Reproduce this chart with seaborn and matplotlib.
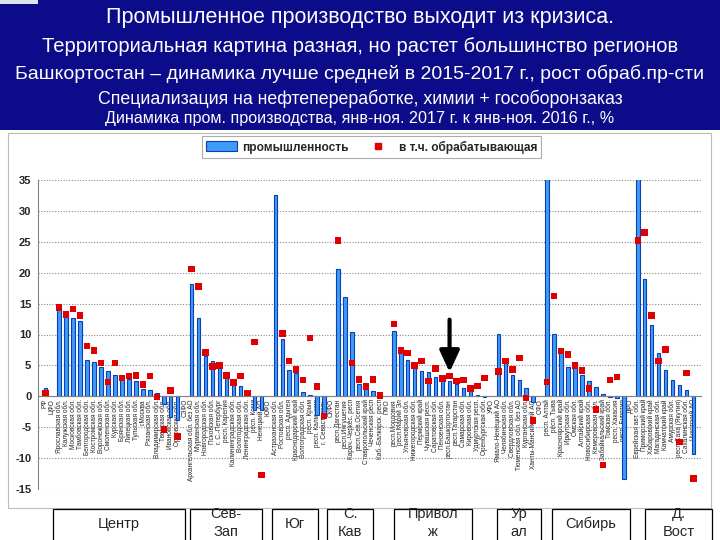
import numpy as np
import pandas as pd
import matplotlib
matplotlib.use("Agg")
import matplotlib.pyplot as plt
import seaborn as sns
from matplotlib import font_manager as fm
from matplotlib.patches import Rectangle, Patch
from matplotlib.lines import Line2D

# ---------------- data ----------------
regions = [
    "РФ", "ЦФО", "Ярославская обл.", "Калужская обл.", "Московская обл.", "Тамбовская обл.",
    "Белгородская обл.", "Костромская обл.", "Воронежская обл.", "Смоленская обл.", "Курская обл.",
    "Брянская обл.", "Липецкая обл.", "Тульская обл.", "г.Москва", "Рязанская обл.",
    "Владимирская обл.", "Тверская обл.", "Ивановская обл.", "Орловская обл.",
    "СЗФО", "Архангельская обл. без АО", "Мурманская обл.", "Новгородская обл.", "Псковская обл.",
    "г. С.-Петербург", "респ. Карелия", "Калининградская обл.", "Вологодская обл.",
    "Ленинградская обл.", "респ. Коми", "Ненецкий АО",
    "ЮФО", "Астраханская обл.", "Ростовская обл.", "респ. Адыгея", "Краснодарский край",
    "Волгоградская обл.", "респ. Крым", "респ. Калмыкия", "г. Севастополь",
    "СКФО", "респ.Дагестан", "респ.Ингушетия", "Карач.-Черкес. респ", "респ.Сев.Осетия",
    "Ставропольский край", "Чеченская респ", "Каб.-Балкарск. респ",
    "ПФО", "респ.Мордовия", "респ.Марий Эл", "Ульяновская обл.", "Нижегородская обл.",
    "Пермский край", "Чувашская респ.", "Саратовская обл.", "Пензенская обл.",
    "респ.Башкортостан", "респ.Татарстан", "Самарская обл.", "Кировская обл.",
    "Удмуртская респ.", "Оренбургская обл.",
    "УФО", "Ямало-Ненецкий АО", "Челябинская обл.", "Свердловская обл.",
    "Тюменская обл. без АО", "Курганская обл.", "Ханты-Мансийский АО",
    "СФО", "респ. Алтай", "респ. Тыва", "Красноярский край", "Иркутская обл.", "Омская обл.",
    "Алтайский край", "Новосибирская обл.", "Кемеровская обл.", "Забайкальский край",
    "Томская обл.", "респ. Хакасия", "респ. Бурятия",
    "ДФО", "Еврейская авт. обл.", "Приморский край", "Хабаровский край", "Магаданская обл.",
    "Камчатский край", "Амурская обл.", "респ.Саха (Якутия)", "Сахалинская обл.", "Чукотский АО",
]

nan = np.nan
industry = [
    1.3, nan, 14.8, 13.0, 12.7, 12.2, 5.9, 5.6, 4.8, 4.1, 3.4, 3.2, 2.8, 2.5, 1.2, 1.1, 0.5, -1.2, -3.3, -3.8,
    nan, 18.2, 12.7, 6.5, 5.75, 5.0, 3.5, 2.7, 1.7, 0.5, -2.2, -2.2,
    nan, 32.6, 9.2, 4.2, 3.8, 0.65, 0.2, -3.0, -3.4,
    nan, 20.6, 16.1, 10.4, 2.0, 1.2, 0.86, 0.05,
    nan, 10.6, 7.0, 5.9, 4.9, 4.1, 4.0, 3.2, 3.1, 2.4, 2.0, 1.3, 0.8, 0.16, -0.1,
    nan, 10.1, 5.4, 3.5, 2.6, 1.3, -1.0,
    nan, 35.5, 10.1, 7.2, 4.8, 4.7, 3.4, 2.4, 1.5, 0.3, -0.1, -0.2, -13.4,
    nan, 35.5, 19.0, 11.6, 7.0, 4.2, 2.6, 1.9, 1.1, -9.4,
]

manufacturing = [
    0.5, nan, 14.4, 13.2, 14.1, 13.1, 8.1, 7.4, 5.4, 2.3, 5.4, 3.0, 3.3, 3.4, 1.9, 3.3, -0.1, -5.4, 0.9, -6.5,
    nan, 20.6, 17.8, 7.1, 4.8, 5.0, 3.4, 2.2, 3.3, 0.5, 8.8, -12.7,
    nan, nan, 10.2, 5.7, 4.35, 2.6, 9.4, 1.6, -3.2,
    nan, 25.2, nan, 5.4, 2.7, 1.6, 2.7, 0.1,
    nan, 11.7, 7.4, 7.0, 5.0, 5.75, 2.5, 4.5, 2.9, 3.3, 2.5, 2.6, 1.3, 1.7, 3.0,
    nan, 4.0, 5.75, 4.3, 6.2, -0.3, -3.9,
    nan, 2.3, 16.2, 7.3, 6.8, 5.0, 4.2, 1.3, -2.1, -11.1, 2.6, 3.1, nan,
    nan, 25.2, 26.5, 13.1, 5.75, 7.6, nan, -7.4, 3.8, -13.3,
]

series_names = ["промышленность", "в т.ч. обрабатывающая"]
y_ticks = [-15, -10, -5, 0, 5, 10, 15, 20, 25, 30, 35]

title_lines = [
    "Промышленное производство выходит из кризиса.",
    "Территориальная картина разная, но растет большинство регионов",
    "Башкортостан – динамика лучше средней в 2015-2017 г., рост обраб.пр-сти",
    "Специализация на нефтепереработке, химии + гособоронзаказ",
    "Динамика пром. производства, янв-ноя. 2017 г. к янв-ноя. 2016 г., %",
]

districts = ["Центр", "Сев-\nЗап", "Юг", "С.\nКав", "Привол\nж", "Ур\nал", "Сибирь", "Д.\nВост"]
highlight = "респ.Башкортостан"

# ---------------- style ----------------
sns.set_style("white")
plt.rcParams["font.family"] = ["Liberation Sans", "DejaVu Sans"]


def font_available(name):
    try:
        fm.findfont(fm.FontProperties(family=name), fallback_to_default=False)
        return True
    except Exception:
        return False


narrow = None
for cand in ["Liberation Sans Narrow", "Arial Narrow"]:
    if font_available(cand):
        narrow = cand
        break

W, H = 720, 540
fig = plt.figure(figsize=(7.2, 5.4), dpi=100)
fig.patch.set_facecolor("white")


def fx(x):
    return x / W


def fy(y):
    return 1 - y / H


# banner
fig.add_artist(Rectangle((0, fy(130)), 1, 130 / H, transform=fig.transFigure,
                         facecolor="#0C0C8A", edgecolor="none", zorder=0))
fig.add_artist(Rectangle((0, fy(4)), fx(38), 4 / H, transform=fig.transFigure,
                         facecolor="#DCE4F2", edgecolor="none", zorder=1))

# chart frame
fig.add_artist(Rectangle((fx(8), fy(508)), fx(703), (508 - 133) / H, transform=fig.transFigure,
                         facecolor="none", edgecolor="#BBBBBB", lw=0.8, zorder=1))

renderer = fig.canvas.get_renderer()
# (center y, target width, max font size)
banner_spec = [(18, 555, 15.5), (47, 708, 14.5), (74, 708, 14.0), (99, 590, 12.8), (118, 565, 11.6)]
if narrow:
    banner_spec = [(18, 555, 16.5), (47, 708, 16.0), (74, 708, 15.0), (99, 590, 14.0), (118, 565, 12.5)]
for s, (cy, tw, fmax) in zip(title_lines, banner_spec):
    kw = {"family": [narrow, "Liberation Sans", "DejaVu Sans"]} if narrow else {}
    t = fig.text(0.5, fy(cy), s, ha="center", va="center", color="white",
                 fontsize=14, zorder=2, **kw)
    w = t.get_window_extent(renderer).width
    t.set_fontsize(min(14 * tw / w, fmax))

# axes
x_left, x_right = 38.3, 700.5
y_top, y_bot = 180, 489
ax = fig.add_axes([fx(x_left), fy(y_bot), (x_right - x_left) / W, (y_bot - y_top) / H])
ax.set_facecolor("none")

pos = np.arange(len(regions))
df = pd.DataFrame({"pos": pos, "ind": industry, "man": manufacturing})

bar_face = "#3D9CF5"
bar_edge = "#0B3FB8"
sns.barplot(data=df, x="pos", y="ind", native_scale=True, width=0.5, color=bar_face,
            saturation=1, edgecolor=bar_edge, linewidth=0.8, ax=ax, zorder=2)
sns.scatterplot(data=df, x="pos", y="man", marker="s", s=22, color="#E00000",
                edgecolor="none", linewidth=0, ax=ax, zorder=4)

ax.set_xlim(-1, len(regions))
ax.set_ylim(-15, 35)
ax.set_yticks(y_ticks)
ax.set_yticklabels([str(v) for v in y_ticks])
ax.set_xticks(pos)
ax.set_xticklabels(regions)
ax.set_xticks(np.arange(-0.5, len(regions), 1), minor=True)
xl_size = 5.4 if narrow else 4.7
ax.tick_params(axis="x", which="major", length=0, pad=2, labelrotation=90, labelsize=xl_size)
ax.tick_params(axis="x", which="minor", length=2.5, color="#808080", direction="out")
ax.tick_params(axis="y", length=3, color="#808080", pad=2, direction="out", labelsize=8)
for lab in ax.get_yticklabels():
    lab.set_fontweight("bold")
for lab in ax.get_xticklabels():
    lab.set_rotation(90)
    lab.set_va("top")
    lab.set_ha("center")
    if narrow:
        lab.set_family([narrow, "Liberation Sans", "DejaVu Sans"])
ax.set_xlabel("")
ax.set_ylabel("")
ax.yaxis.grid(True, linestyle=(0, (1, 1.5)), color="#888888", lw=0.8)
ax.xaxis.grid(False)
ax.set_axisbelow(True)
for sp in ["top", "right"]:
    ax.spines[sp].set_visible(False)
ax.spines["bottom"].set_position(("data", 0))
ax.spines["bottom"].set_color("#808080")
ax.spines["left"].set_color("#808080")
ax.spines["bottom"].set_zorder(3)

# arrow to Bashkortostan
bi = regions.index(highlight)
ax.annotate("", xy=(bi, 3.9), xytext=(bi, 12.4),
            arrowprops=dict(arrowstyle="-|>,head_length=0.65,head_width=0.3", lw=3,
                            color="black", mutation_scale=20, shrinkA=0, shrinkB=0),
            zorder=6)

# legend
handles = [Patch(facecolor=bar_face, edgecolor=bar_edge, lw=0.8),
           Line2D([], [], marker="s", color="#E00000", ls="none", markersize=4)]
leg = fig.legend(handles, series_names, loc="center", bbox_to_anchor=(fx(371.5), fy(147)),
                 ncol=2, frameon=True, fancybox=False, edgecolor="#999999",
                 handlelength=2.6, handleheight=0.9, columnspacing=1.2, borderpad=0.35,
                 handletextpad=0.4, prop={"weight": "bold", "size": 8.6})
leg.get_frame().set_linewidth(0.8)

# district boxes along the bottom
box_x = [(53, 185), (190, 262), (272, 318), (327, 373), (394, 472), (497, 541), (552, 630), (645, 712)]
for label, (x0, x1) in zip(districts, box_x):
    fig.add_artist(Rectangle((fx(x0), fy(545)), fx(x1 - x0), (545 - 509) / H,
                             transform=fig.transFigure, facecolor="white",
                             edgecolor="black", lw=0.9, zorder=5))
    two = "\n" in label
    fig.text(fx((x0 + x1) / 2), fy(523 if two else 524), label, ha="center",
             va="center", fontsize=10.5, linespacing=1.45 if two else 1.0, zorder=6)

fig.savefig("out.png", dpi=100)
